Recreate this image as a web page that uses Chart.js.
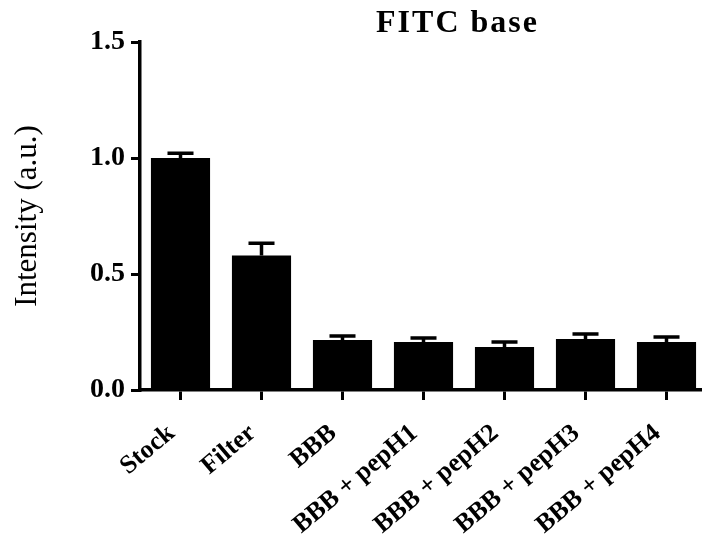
<!DOCTYPE html>
<html lang="en">
<head>
  <meta charset="UTF-8" />
  <title>FITC base</title>
  <script src="https://cdn.jsdelivr.net/npm/chart.js"></script>
  <style>
    html, body {
      margin: 0;
      padding: 0;
      background: #fff;
      overflow: hidden;
    }
    #wrap {
      position: relative;
      width: 712px;
      height: 542px;
    }
  </style>
</head>
<body>
  <div id="wrap"><canvas id="fitcChart"></canvas></div>

  <script>
    // data
    const categories = ['Stock', 'Filter', 'BBB', 'BBB + pepH1', 'BBB + pepH2', 'BBB + pepH3', 'BBB + pepH4'];
    const means = [1.00, 0.58, 0.215, 0.207, 0.185, 0.22, 0.207];
    const errors = [0.02, 0.053, 0.018, 0.017, 0.022, 0.021, 0.021];
    const yTicks = [0.0, 0.5, 1.0, 1.5];
    const chartTitle = 'FITC base';
    const yLabel = 'Intensity (a.u.)';

    const serif = "'Liberation Serif', 'Times New Roman', serif";

    // error bars (upper only, like Prism)
    const errorBars = {
      id: 'errorBars',
      afterDatasetsDraw(chart) {
        const ctx = chart.ctx;
        const y = chart.scales.y;
        const meta = chart.getDatasetMeta(0);
        ctx.save();
        ctx.strokeStyle = '#000';
        ctx.lineWidth = 3.5;
        meta.data.forEach((bar, i) => {
          const top = y.getPixelForValue(means[i] + errors[i]);
          const half = bar.width * 0.22;
          ctx.beginPath();
          ctx.moveTo(bar.x, bar.y);
          ctx.lineTo(bar.x, top);
          ctx.moveTo(bar.x - half, top);
          ctx.lineTo(bar.x + half, top);
          ctx.stroke();
        });
        ctx.restore();
      }
    };

    // title sits a bit right of centre in the original
    const titlePlugin = {
      id: 'offsetTitle',
      afterDraw(chart) {
        const ctx = chart.ctx;
        const area = chart.chartArea;
        ctx.save();
        ctx.font = "bold 32px " + serif;
        ctx.letterSpacing = '2px';
        ctx.fillStyle = '#000';
        ctx.textAlign = 'center';
        ctx.textBaseline = 'alphabetic';
        ctx.fillText(chartTitle, area.left + area.width * 0.56, area.top - 10);
        ctx.restore();
      }
    };

    new Chart(document.getElementById('fitcChart'), {
      type: 'bar',
      data: {
        labels: categories,
        datasets: [{
          data: means,
          backgroundColor: '#000',
          borderWidth: 0,
          categoryPercentage: 1.0,
          barPercentage: 0.73
        }]
      },
      options: {
        responsive: true,
        maintainAspectRatio: false,
        animation: false,
        layout: { padding: { top: 42, right: 5, bottom: 0, left: 0 } },
        plugins: {
          legend: { display: false },
          title: { display: false },
          tooltip: { enabled: false }
        },
        scales: {
          x: {
            offset: true,
            grid: {
              offset: false,
              drawOnChartArea: false,
              drawTicks: true,
              tickLength: 10,
              lineWidth: 3,
              color: '#000'
            },
            border: { display: true, color: '#000', width: 3.5 },
            ticks: {
              color: '#000',
              maxRotation: 40,
              minRotation: 40,
              padding: 18,
              labelOffset: -9,
              autoSkip: false,
              font: { family: serif, size: 26, weight: 'bold' }
            },
            afterFit(scale) { scale.height = 152; }
          },
          y: {
            min: 0,
            max: 1.5,
            afterBuildTicks(scale) {
              scale.ticks = yTicks.map(v => ({ value: v }));
            },
            grid: {
              drawOnChartArea: false,
              drawTicks: true,
              tickLength: 9,
              lineWidth: 3,
              color: '#000'
            },
            border: { display: true, color: '#000', width: 3.5 },
            ticks: {
              color: '#000',
              padding: 6,
              font: { family: serif, size: 28, weight: 'bold' },
              callback: v => Number(v).toFixed(1)
            },
            title: {
              display: true,
              text: yLabel,
              color: '#000',
              padding: { top: 9, bottom: 0 },
              font: { family: serif, size: 31, weight: 'normal' }
            },
            afterFit(scale) { scale.width = 140; }
          }
        }
      },
      plugins: [errorBars, titlePlugin]
    });
  </script>
</body>
</html>
